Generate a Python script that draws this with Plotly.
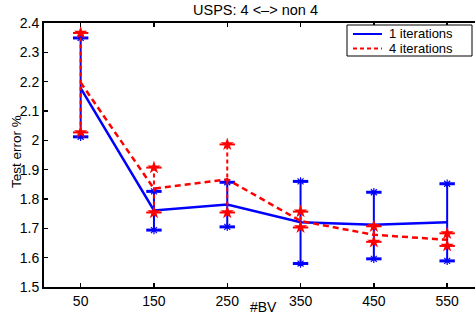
import plotly.graph_objects as go

bv = [50, 150, 250, 350, 450, 550]
blue_mean = [2.178, 1.761, 1.781, 1.721, 1.712, 1.721]
blue_upper = [2.349, 1.826, 1.857, 1.860, 1.823, 1.852]
blue_lower = [2.012, 1.694, 1.705, 1.580, 1.596, 1.589]
red_mean = [2.197, 1.835, 1.867, 1.725, 1.678, 1.661]
red_upper = [2.366, 1.907, 1.986, 1.757, 1.707, 1.683]
red_lower = [2.027, 1.754, 1.754, 1.703, 1.654, 1.640]
ytick_vals = [1.5, 1.6, 1.7, 1.8, 1.9, 2.0, 2.1, 2.2, 2.3, 2.4]
ytick_text = ["1.5", "1.6", "1.7", "1.8", "1.9", "2", "2.1", "2.2", "2.3", "2.4"]
xtick_vals = [50, 150, 250, 350, 450, 550]
series_names = ["1 iterations", "4 iterations"]

BLUE = "#0000ff"
RED = "#ff0000"
FONT = "Liberation Sans, Arial, Helvetica, sans-serif"

L, R, T, B = 44, 0, 23, 34
W, H = 475, 321
PW, PH = W - L - R, H - T - B


def seg(xs, lo, hi):
    sx, sy = [], []
    for x, a, b in zip(xs, lo, hi):
        sx += [x, x, None]
        sy += [a, b, None]
    return sx, sy


def px(xp):
    return (xp - L) / PW


def py(yp):
    return (H - B - yp) / PH


fig = go.Figure()

# blue series
bx, by = seg(bv, blue_lower, blue_upper)
fig.add_trace(go.Scatter(x=bx, y=by, mode="lines", line=dict(color=BLUE, width=2),
                         showlegend=False, hoverinfo="skip"))
fig.add_trace(go.Scatter(x=bv, y=blue_mean, mode="lines", line=dict(color=BLUE, width=2.5),
                         name=series_names[0], showlegend=False))
ends_x = bv + bv
blue_ends = blue_upper + blue_lower
fig.add_trace(go.Scatter(x=ends_x, y=blue_ends, mode="markers",
                         marker=dict(symbol="line-ew-open", size=11, color=BLUE,
                                     line=dict(color=BLUE, width=3)),
                         showlegend=False, hoverinfo="skip"))
fig.add_trace(go.Scatter(x=ends_x, y=blue_ends, mode="markers",
                         marker=dict(symbol="asterisk-open", size=7, color=BLUE,
                                     line=dict(color=BLUE, width=1.2)),
                         showlegend=False, hoverinfo="skip"))

# red series
rx, ry = seg(bv, red_lower, red_upper)
fig.add_trace(go.Scatter(x=rx, y=ry, mode="lines", line=dict(color=RED, width=2, dash="4px,3px"),
                         showlegend=False, hoverinfo="skip"))
fig.add_trace(go.Scatter(x=bv, y=red_mean, mode="lines", line=dict(color=RED, width=2.5, dash="6px,4px"),
                         name=series_names[1], showlegend=False))
red_ends = red_upper + red_lower
fig.add_trace(go.Scatter(x=ends_x, y=red_ends, mode="markers",
                         marker=dict(symbol="line-ew-open", size=11, color=RED,
                                     line=dict(color=RED, width=2)),
                         showlegend=False, hoverinfo="skip"))
fig.add_trace(go.Scatter(x=ends_x, y=red_ends, mode="markers",
                         marker=dict(symbol="star", size=10, color=RED, line=dict(color=RED, width=0)),
                         showlegend=False, hoverinfo="skip"))

fig.update_layout(
    width=W, height=H,
    margin=dict(l=L, r=R, t=T, b=B, autoexpand=False),
    paper_bgcolor="white", plot_bgcolor="white",
    font=dict(family=FONT, size=14, color="black"),
    showlegend=False,
    hovermode=False,
)
fig.update_xaxes(range=[0, 588], tickvals=xtick_vals, ticks="inside", ticklen=4,
                 tickcolor="black", tickwidth=1.5, showline=True, linecolor="black", linewidth=2,
                 mirror="ticks", showgrid=False, zeroline=False, automargin=False,
                 tickfont=dict(size=14, family=FONT))
fig.update_yaxes(range=[1.5, 2.4], tickvals=ytick_vals, ticktext=ytick_text, ticks="inside",
                 ticklen=4, tickcolor="black", tickwidth=1.5, showline=True, linecolor="black",
                 linewidth=2, mirror=False, showgrid=False, zeroline=False, automargin=False,
                 tickfont=dict(size=14, family=FONT))

# title and axis titles
fig.add_annotation(text="USPS: 4 <\u2013> non 4", xref="paper", yref="paper", x=px(255), y=py(10),
                   xanchor="center", yanchor="middle", showarrow=False,
                   font=dict(size=14.5, family=FONT))
fig.add_annotation(text="Test error %", xref="paper", yref="paper", x=px(16), y=py(152),
                   xanchor="center", yanchor="middle", textangle=-90, showarrow=False,
                   font=dict(size=13.5, family=FONT))
fig.add_annotation(text="#BV", xref="paper", yref="paper", x=px(263), y=py(307),
                   xanchor="center", yanchor="middle", showarrow=False,
                   font=dict(size=14, family=FONT))

# manual legend
fig.add_shape(type="rect", xref="paper", yref="paper", x0=px(347), x1=px(472), y0=py(56), y1=py(25),
              line=dict(color="black", width=1), fillcolor="white", layer="above")
legend_rows = [(34, BLUE, "solid"), (48.5, RED, "4px,3px")]
for (yrow, col, dash), name in zip(legend_rows, series_names):
    fig.add_shape(type="line", xref="paper", yref="paper", x0=px(353), x1=px(382), y0=py(yrow), y1=py(yrow),
                  line=dict(color=col, width=2, dash=dash), layer="above")
    fig.add_annotation(text=name, xref="paper", yref="paper", x=px(388), y=py(yrow),
                       xanchor="left", yanchor="middle", showarrow=False,
                       font=dict(size=13, family=FONT), borderpad=0)

fig.write_html("out.html", config={"displayModeBar": False, "staticPlot": True},
               post_script="document.body.style.margin='0';document.body.style.overflow='hidden';")
